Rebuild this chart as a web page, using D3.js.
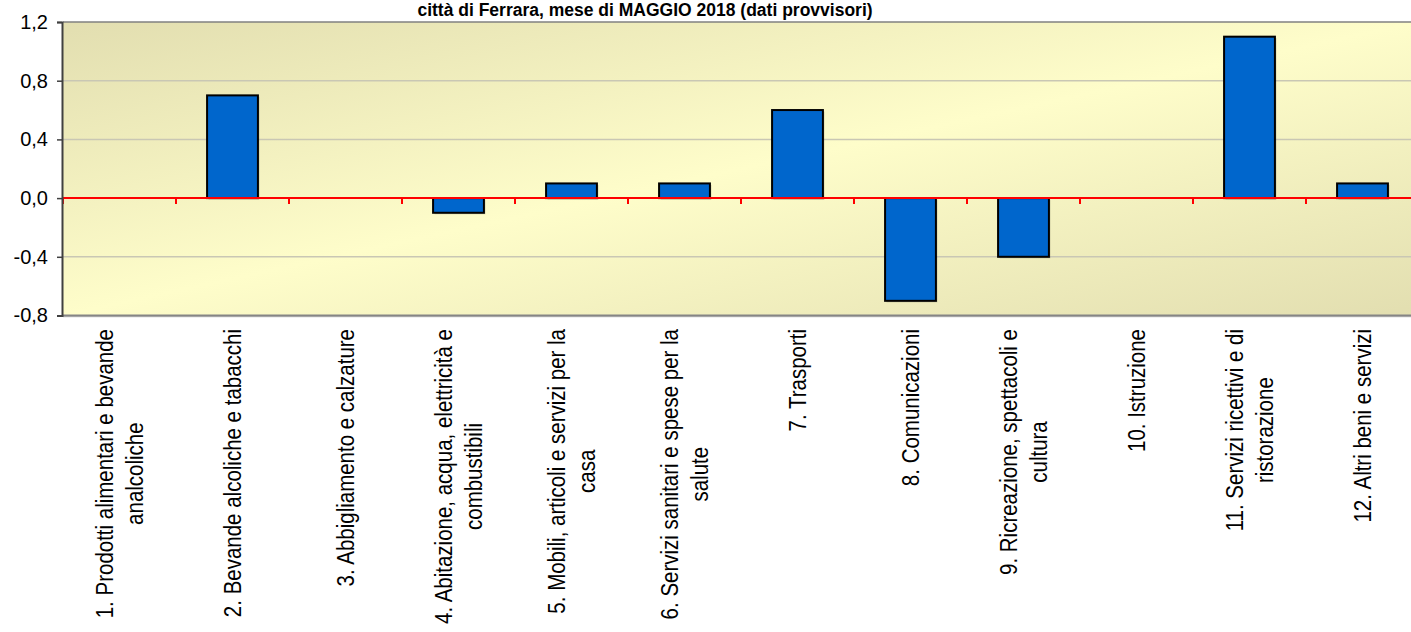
<!DOCTYPE html>
<html>
<head>
<meta charset="utf-8">
<script src="https://cdn.jsdelivr.net/npm/d3@7"></script>
<style>
  body { margin: 0; background: #fff; }
  svg { display: block; font-family: "Liberation Sans", Arial, sans-serif; }
</style>
</head>
<body>
<svg id="chart" width="1411" height="632"></svg>
<script>
// categories, "|" marks where the label wraps
var categories = [
  "1. Prodotti alimentari e bevande|analcoliche",
  "2. Bevande alcoliche e tabacchi",
  "3. Abbigliamento e calzature",
  "4. Abitazione, acqua, elettricità e|combustibili",
  "5. Mobili, articoli e servizi per la|casa",
  "6. Servizi sanitari e spese per la|salute",
  "7. Trasporti",
  "8. Comunicazioni",
  "9. Ricreazione, spettacoli e|cultura",
  "10. Istruzione",
  "11. Servizi ricettivi e di|ristorazione",
  "12. Altri beni e servizi"
];
var values = [0, 0.7, 0, -0.1, 0.1, 0.1, 0.6, -0.7, -0.4, 0, 1.1, 0.1];
var yTicks = [-0.8, -0.4, 0, 0.4, 0.8, 1.2];
var title = "città di Ferrara, mese di MAGGIO 2018 (dati provvisori)";

var my = {
  left: 63, right: 1419, top: 22, bottom: 315.5,
  labelTop: 329, lineGap: 30, stretch: 1.13 // the picture is a bit wider than tall
};

var svg = d3.select("#chart");

var x = d3.scaleBand().domain(categories).range([my.left, my.right]).paddingInner(0.55).paddingOuter(0.275);
var xCat = d3.scaleBand().domain(categories).range([my.left, my.right]).padding(0);
var y = d3.scaleLinear().domain([-0.8, 1.2]).range([my.bottom, my.top]);

// plot area background
var grad = svg.append("defs").append("linearGradient")
  .attr("id", "bg").attr("x1", 0).attr("y1", 0).attr("x2", 1).attr("y2", 1);
grad.append("stop").attr("offset", "0%").attr("stop-color", "#e2deb0");
grad.append("stop").attr("offset", "50%").attr("stop-color", "#fefdca");
grad.append("stop").attr("offset", "100%").attr("stop-color", "#e2deb0");

svg.append("rect")
  .attr("x", my.left).attr("y", my.top)
  .attr("width", my.right - my.left).attr("height", my.bottom - my.top)
  .attr("fill", "url(#bg)");

// gridlines
svg.append("g").selectAll("line")
  .data(yTicks.filter(function(d){ return d !== 0 && d !== -0.8 && d !== 1.2; }))
  .enter().append("line")
  .attr("x1", my.left).attr("x2", my.right)
  .attr("y1", function(d){ return y(d); }).attr("y2", function(d){ return y(d); })
  .attr("stroke", "#c9c7b4").attr("stroke-width", 1.5);

// top and bottom border of plot area
svg.append("line").attr("x1", my.left).attr("x2", my.right)
  .attr("y1", y(1.2)).attr("y2", y(1.2)).attr("stroke", "#808080").attr("stroke-width", 1.5);
svg.append("line").attr("x1", my.left).attr("x2", my.right)
  .attr("y1", y(-0.8) + 1).attr("y2", y(-0.8) + 1).attr("stroke", "#c4c4c4").attr("stroke-width", 1.5);
svg.append("line").attr("x1", my.left).attr("x2", my.right)
  .attr("y1", y(-0.8)).attr("y2", y(-0.8)).attr("stroke", "#858585").attr("stroke-width", 2);

// bars (with a light shadow)
var barData = values.map(function(v, i){ return {cat: categories[i], v: v}; })
  .filter(function(d){ return d.v !== 0; });

svg.append("g").selectAll("rect")
  .data(barData)
  .enter().append("rect")
  .attr("x", function(d){ return x(d.cat) + 1.5; })
  .attr("y", function(d){ return Math.min(y(d.v), y(0)) + 1.5; })
  .attr("width", x.bandwidth())
  .attr("height", function(d){ return Math.abs(y(d.v) - y(0)); })
  .attr("fill", "#000").attr("opacity", 0.18);

svg.append("g").selectAll("rect")
  .data(barData)
  .enter().append("rect")
  .attr("x", function(d){ return x(d.cat); })
  .attr("y", function(d){ return Math.min(y(d.v), y(0)); })
  .attr("width", x.bandwidth())
  .attr("height", function(d){ return Math.abs(y(d.v) - y(0)); })
  .attr("fill", "#0066cc").attr("stroke", "#000").attr("stroke-width", 2);

// zero line with category ticks in red
svg.append("line").attr("x1", my.left).attr("x2", my.right)
  .attr("y1", y(0)).attr("y2", y(0)).attr("stroke", "#ff0000").attr("stroke-width", 2);
svg.append("g").selectAll("line")
  .data(categories)
  .enter().append("line")
  .attr("x1", function(d){ return xCat(d); }).attr("x2", function(d){ return xCat(d); })
  .attr("y1", y(0)).attr("y2", y(0) + 6)
  .attr("stroke", "#ff0000").attr("stroke-width", 2);

// y axis
var yAxis = svg.append("g").attr("transform", "translate(" + (my.left - 1) + ",0)")
  .call(d3.axisLeft(y).tickValues(yTicks).tickSize(5).tickPadding(9)
    .tickFormat(function(d){ return d.toFixed(1).replace(".", ","); }));
yAxis.select(".domain").attr("stroke", "#404040").attr("stroke-width", 2);
yAxis.selectAll(".tick line").attr("stroke", "#404040").attr("stroke-width", 1.5);
yAxis.selectAll(".tick text")
  .attr("fill", "#000").style("font-size", "20px").style("font-family", "Liberation Sans, Arial, sans-serif");

// category labels, rotated, top aligned, lines centred
var labels = svg.append("g").selectAll("g")
  .data(categories)
  .enter().append("g")
  .attr("transform", function(d){
    return "translate(" + (xCat(d) + xCat.bandwidth() / 2) + "," + my.labelTop + ") rotate(-90) scale(1," + my.stretch + ")";
  });

labels.each(function(d){
  var g = d3.select(this);
  var lines = d.split("|");
  var texts = lines.map(function(line, i){
    return g.append("text")
      .attr("y", (i - (lines.length - 1) / 2) * my.lineGap / my.stretch)
      .attr("dy", "0.35em")
      .attr("text-anchor", "middle")
      .style("font-size", "20.5px")
      .attr("fill", "#000")
      .text(line);
  });
  var longest = d3.max(texts, function(t){ return t.node().getComputedTextLength(); });
  texts.forEach(function(t){ t.attr("x", -longest / 2); });
});

// title (its first line is off the top of the picture)
svg.append("text")
  .attr("x", 645).attr("y", 16)
  .attr("text-anchor", "middle")
  .style("font-size", "17.5px").style("font-weight", "bold")
  .attr("fill", "#000")
  .text(title);
</script>
</body>
</html>
